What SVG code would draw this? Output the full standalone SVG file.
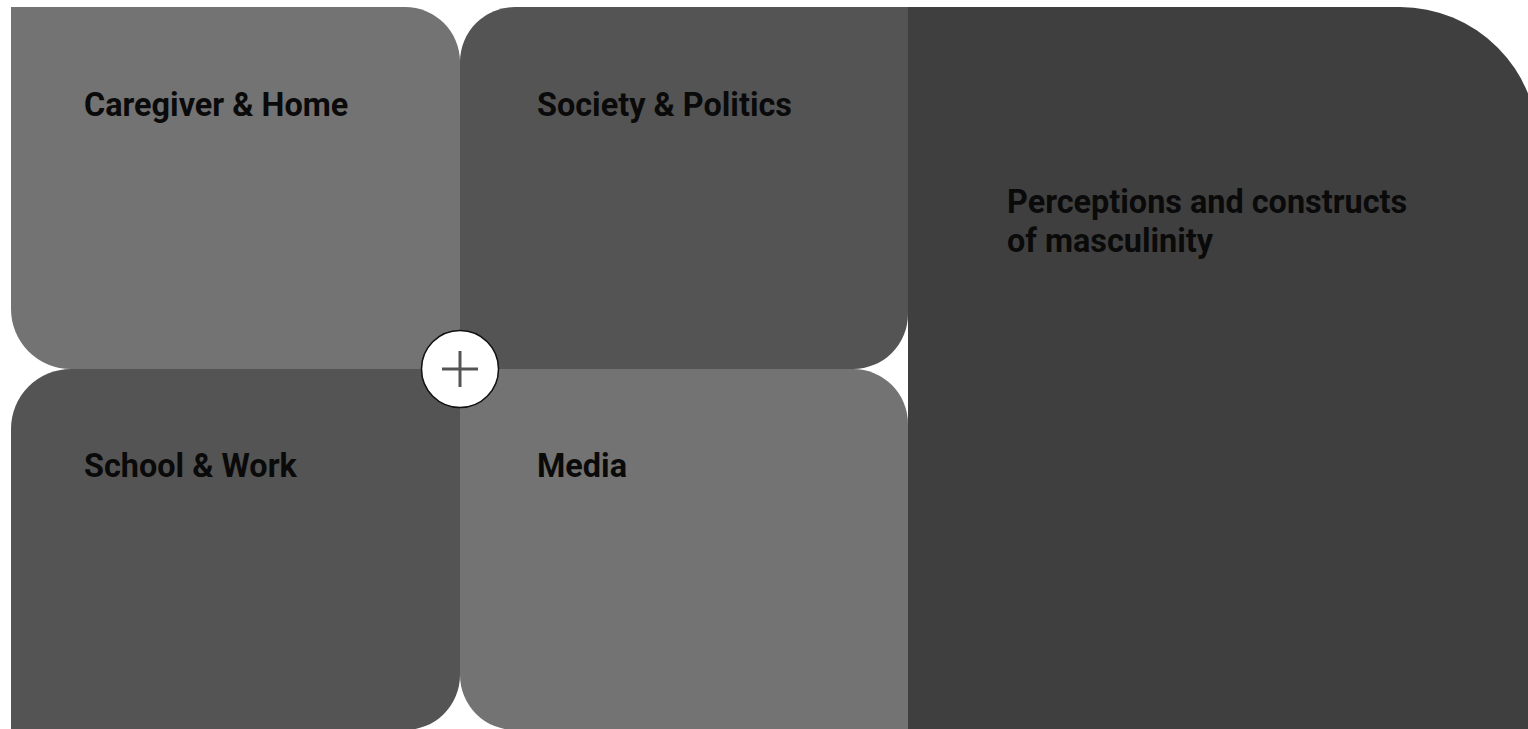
<svg xmlns="http://www.w3.org/2000/svg" width="1528" height="729" viewBox="0 0 1528 729">
  <style>
    .lbl { font-family: Roboto, "Liberation Sans", sans-serif; font-weight: 700; font-size: 32.4px; fill: #0a0a0a; }
    .light { fill: #737373; }
    .mid { fill: #545454; }
    .dark { fill: #3f3f3f; }
  </style>
  <rect width="1528" height="729" fill="#ffffff"/>
  <g id="node-perceptions">
    <path class="dark" d="M908 7 H1400 A138 138 0 0 1 1538 145 V740 H908 Z"/>
    <text class="lbl" x="1007" y="213">Perceptions and constructs</text>
    <text class="lbl" x="1007" y="252">of masculinity</text>
  </g>
  <g id="node-caregiver">
    <path class="light" d="M11 7 H405 A55 55 0 0 1 460 62 V369 H71 A60 60 0 0 1 11 309 Z"/>
    <text class="lbl" x="84" y="116">Caregiver &amp; Home</text>
  </g>
  <g id="node-society">
    <path class="mid" d="M515 7 H908 V314 A55 55 0 0 1 853 369 H460 V62 A55 55 0 0 1 515 7 Z"/>
    <text class="lbl" x="537" y="116">Society &amp; Politics</text>
  </g>
  <g id="node-school">
    <path class="mid" d="M71 369 H460 V675 A55 55 0 0 1 405 730 H11 V429 A60 60 0 0 1 71 369 Z"/>
    <text class="lbl" x="84" y="477">School &amp; Work</text>
  </g>
  <g id="node-media">
    <path class="light" d="M460 369 H853 A55 55 0 0 1 908 424 V730 H515 A55 55 0 0 1 460 675 Z"/>
    <text class="lbl" x="537" y="477">Media</text>
  </g>
  <g id="connectors">
    <g id="plus">
      <circle cx="460" cy="369" r="38.5" fill="#ffffff" stroke="#111111" stroke-width="1.5"/>
      <path d="M442 369 H478 M460 351 V387" stroke="#555555" stroke-width="3" fill="none"/>
    </g>
  </g>
</svg>
